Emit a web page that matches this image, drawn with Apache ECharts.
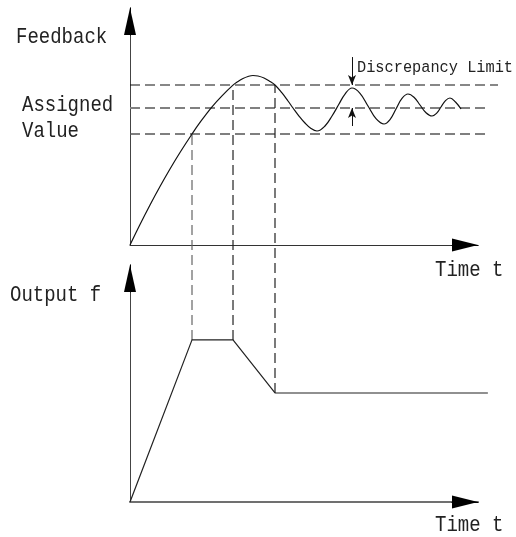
<!DOCTYPE html>
<html>
<head>
<meta charset="utf-8">
<script src="https://cdn.jsdelivr.net/npm/echarts@6/dist/echarts.min.js"></script>
<style>
html,body{margin:0;padding:0;background:#fff;}
#chart{width:516px;height:537px;}
</style>
</head>
<body>
<div id="chart"></div>
<script>
// ---- data (time axis 0..120, value axes 0..100) ----
var feedbackT = [0, 3.45, 6.90, 10.34, 13.79, 17.24, 21.38, 24.14, 28.28, 31.72, 35.52, 37.24, 38.97, 40.69, 42.41,
  44.14, 46.21, 48.28, 50.00, 52.41, 54.48, 56.21, 58.28, 60.34, 62.41, 64.48,
  67.24, 69.66, 72.07, 74.14, 76.55, 79.31, 82.07, 84.83, 87.59, 89.66, 91.72, 93.79, 95.86,
  97.93, 100.00, 102.07, 104.14, 105.69, 107.24, 108.79, 110.34, 112.24, 114.14];
var feedbackV = [0, 8.65, 16.88, 24.68, 32.07, 39.03, 46.84, 51.73, 58.31, 62.95, 67.45, 68.99, 70.25, 71.10, 71.52,
  71.31, 70.46, 68.99, 67.50, 64.14, 60.76, 57.81, 54.43, 51.48, 49.16, 48.10,
  50.21, 54.43, 59.49, 63.71, 66.24, 64.01, 58.65, 53.29, 51.05, 52.91, 57.38, 61.86, 63.71,
  62.36, 59.07, 55.78, 54.43, 55.53, 58.23, 60.93, 62.03, 60.34, 57.38];

var outputT = [0, 21.38, 35.52, 50.00, 123.4];
var outputV = [0, 68.4, 68.4, 46.0, 46.0];

// horizontal reference levels in feedback plot
var levelNames = ['upper limit', 'assigned value', 'lower limit'];
var levelValues = [67.5, 57.8, 46.84];
var levelEnds = [126.9, 124.1, 124.1];

// vertical guides (output-plot units): time, output value, feedback level expressed on output scale
var guideT = [21.38, 35.52, 50.00];
var guideLow = [68.4, 68.4, 46.0];
var guideHigh = [155.3, 175.9, 175.9];

// discrepancy limit arrows
var limitT = 76.55;
var limitFrom = [79.3, 50.2];
var limitTo = [67.5, 57.8];

var labels = {
  feedback: 'Feedback', assigned1: 'Assigned', assigned2: 'Value',
  limit: 'Discrepancy Limit', time: 'Time t', output: 'Output f'
};

// ---- chart ----
var chart = echarts.init(document.getElementById('chart'), null, {renderer: 'canvas'});

function zip(a, b) { return a.map(function (v, i) { return [v, b[i]]; }); }

var LEFT = 130, AX_W = 348, DATA_W = 372, PLOT_H = 237, TOPS = [8, 265];
var X_MAX = 120, Y_MAX = 100;
var DATA_X_MAX = X_MAX * DATA_W / AX_W;
var ARROW_X = [13, 26], ARROW_Y = [12, 27];

function noDeco(o) {
  o.axisTick = {show: false}; o.axisLabel = {show: false}; o.splitLine = {show: false};
  return o;
}
function lineX(gi, color, width, arrow) {
  return noDeco({
    type: 'value', gridIndex: gi, min: 0, max: X_MAX,
    axisLine: {show: true, onZero: false, lineStyle: {color: color, width: width},
      symbol: arrow ? ['none', 'triangle'] : 'none', symbolSize: ARROW_X, symbolOffset: [0, -ARROW_X[1] / 2]}
  });
}
function lineY(gi, color, width, arrow) {
  return noDeco({
    type: 'value', gridIndex: gi, min: 0, max: Y_MAX,
    axisLine: {show: true, onZero: false, lineStyle: {color: color, width: width},
      symbol: arrow ? ['none', 'triangle'] : 'none', symbolSize: ARROW_Y, symbolOffset: [0, -ARROW_Y[1] / 2]}
  });
}
function hidX(gi, max) {
  return {type: 'value', gridIndex: gi, min: 0, max: max || X_MAX, show: false, splitLine: {show: false}};
}
function hidY(gi) {
  return {type: 'value', gridIndex: gi, min: 0, max: Y_MAX, show: false, splitLine: {show: false}};
}

var grids = [], xAxes = [], yAxes = [];
var axisColors = [
  {x: '#333', xw: 1, y: '#444', yw: 1},
  {x: '#707070', xw: 2, y: '#444', yw: 1}
];
TOPS.forEach(function (top, k) {
  var c = axisColors[k];
  // axis lines
  grids.push({left: LEFT, top: top, width: AX_W, height: PLOT_H});
  xAxes.push(lineX(grids.length - 1, c.x, c.xw, false));
  yAxes.push(lineY(grids.length - 1, c.y, c.yw, false));
  // data area (wider, so guide lines can run past the arrow)
  grids.push({left: LEFT, top: top, width: DATA_W, height: PLOT_H});
  xAxes.push(hidX(grids.length - 1, DATA_X_MAX));
  yAxes.push(hidY(grids.length - 1));
  // black arrowhead on time axis
  grids.push({left: LEFT + AX_W - ARROW_X[1], top: top, width: ARROW_X[1], height: PLOT_H});
  xAxes.push(lineX(grids.length - 1, '#000', 1, true));
  yAxes.push(hidY(grids.length - 1));
  // black arrowhead on value axis
  grids.push({left: LEFT, top: top, width: AX_W, height: ARROW_Y[1]});
  xAxes.push(hidX(grids.length - 1));
  yAxes.push(lineY(grids.length - 1, '#000', 1, true));
});
var TOP_DATA = 1, BOTTOM_DATA = 5;

var series = [];
series.push({
  type: 'line', xAxisIndex: TOP_DATA, yAxisIndex: TOP_DATA, data: zip(feedbackT, feedbackV),
  smooth: 0.4, showSymbol: false, symbol: 'none', clip: false,
  lineStyle: {color: '#111', width: 1.2}, z: 5
});
var levelStyles = [
  {color: '#111', width: 1.1},
  {color: '#808080', width: 2},
  {color: '#555', width: 1.4}
];
levelValues.forEach(function (v, i) {
  series.push({
    type: 'line', name: levelNames[i], xAxisIndex: TOP_DATA, yAxisIndex: TOP_DATA,
    data: [[0, v], [levelEnds[i], v]], showSymbol: false, symbol: 'none', clip: false,
    lineStyle: {color: levelStyles[i].color, width: levelStyles[i].width, type: [10, 5]}, z: 3
  });
});
series.push({
  type: 'line', xAxisIndex: TOP_DATA, yAxisIndex: TOP_DATA, data: [], symbol: 'none',
  markLine: {
    silent: true, symbol: ['none', 'arrow'], symbolSize: [6, 10], label: {show: false},
    lineStyle: {color: '#111', width: 1, type: 'solid'},
    data: limitFrom.map(function (f, i) {
      return [{coord: [limitT, f]}, {coord: [limitT, limitTo[i]]}];
    })
  }
});
series.push({
  type: 'line', xAxisIndex: BOTTOM_DATA, yAxisIndex: BOTTOM_DATA, data: zip(outputT, outputV),
  showSymbol: false, symbol: 'none', clip: false,
  lineStyle: {color: '#222', width: 1.2}, z: 5
});
var guideColors = ['#666', '#222', '#222'];
guideT.forEach(function (t, i) {
  series.push({
    type: 'line', xAxisIndex: BOTTOM_DATA, yAxisIndex: BOTTOM_DATA,
    data: [[t, guideLow[i]], [t, guideHigh[i]]], showSymbol: false, symbol: 'none', clip: false,
    lineStyle: {color: guideColors[i], width: 1.2, type: [10, 5]}, z: 3
  });
});

var font = '19px "Liberation Mono", monospace';
function txt(s, x, y, f) {
  return {type: 'text', z: 100, x: x, y: y, scaleY: 1.12,
    style: {text: s, x: 0, y: 0, font: f || font, fill: '#222', verticalAlign: 'middle', align: 'left'}};
}

chart.setOption({
  animation: false,
  backgroundColor: '#fff',
  grid: grids,
  xAxis: xAxes,
  yAxis: yAxes,
  series: series,
  graphic: [
    txt(labels.feedback, 16, 37),
    txt(labels.assigned1, 22, 105),
    txt(labels.assigned2, 22, 131),
    txt(labels.limit, 357, 67, '15.3px "Liberation Mono", monospace'),
    txt(labels.time, 435, 270),
    txt(labels.output, 10, 295),
    txt(labels.time, 435, 525)
  ]
});
</script>
</body>
</html>
